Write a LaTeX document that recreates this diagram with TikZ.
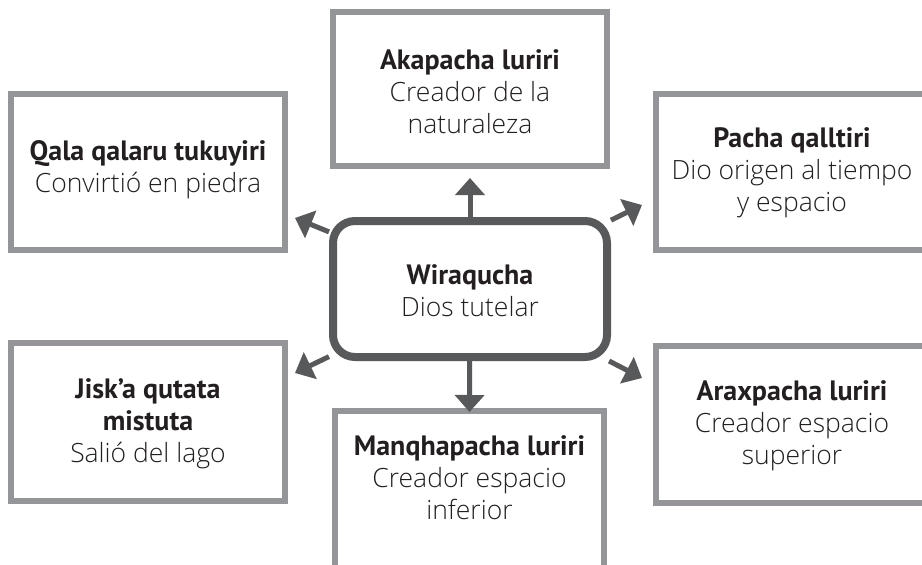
\documentclass[tikz,border=0pt]{standalone}
\usepackage{fontspec}
\setmainfont{PT Sans}
\IfFontExistsTF{Open Sans Light}{\newfontfamily\lightf{Open Sans Light}}{\newfontfamily\lightf{PT Sans}}
\usetikzlibrary{arrows.meta}
\definecolor{boxgray}{HTML}{939598}
\definecolor{darkg}{HTML}{58595B}
\definecolor{txt}{HTML}{231F20}
\newcommand\dsc[1]{{\lightf\fontsize{26.5}{32}\selectfont #1}}
\newcommand\hd[1]{{\bfseries\fontsize{28}{32}\selectfont #1}}
\begin{document}
\begin{tikzpicture}[x=1pt,y=-1pt,
  outerbox/.style={draw=boxgray, line width=6pt, fill=white, inner sep=0pt},
  centerbox/.style={draw=darkg, line width=8pt, fill=white, rounded corners=22pt, inner sep=0pt},
  label/.style={align=center, text=txt, inner sep=0pt, font=\fontsize{27}{32}\selectfont},
  arr/.style={draw=darkg, line width=5pt, -{Triangle[length=17pt,width=29pt]}}]
\clip (0,0) rectangle (922,565);
\fill[white] (0,0) rectangle (922,565);
% outer boxes
\node[outerbox, minimum width=274pt, minimum height=154pt] (A) at (470,89) {};
\node[outerbox, minimum width=274pt, minimum height=156pt] (Q) at (148,172) {};
\node[outerbox, minimum width=272pt, minimum height=156pt] (P) at (792,172) {};
\node[outerbox, minimum width=274pt, minimum height=158pt] (J) at (148,422) {};
\node[outerbox, minimum width=272pt, minimum height=157pt] (R) at (792,424.5) {};
\node[outerbox, minimum width=269pt, minimum height=180pt] (M) at (469.5,501) {};
% central box
\node[centerbox, minimum width=274pt, minimum height=136pt] (W) at (470,289) {};
% texts
\node[label] (tA) at (470,92) {\hd{Akapacha luriri}\\ \dsc{Creador de la}\\ \dsc{naturaleza}};
\node[label] (tQ) at (148,170) {\hd{Qala qalaru tukuyiri}\\ \dsc{Convirtió en piedra}};
\node[label] (tP) at (792,173) {\hd{Pacha qalltiri}\\ \dsc{Dio origen al tiempo}\\ \dsc{y espacio}};
\node[label] (tW) at (470,291) {\hd{Wiraqucha}\\ \dsc{Dios tutelar}};
\node[label] (tJ) at (148,424) {\hd{Jisk’a qutata}\\ \hd{mistuta}\\ \dsc{Salió del lago}};
\node[label] (tR) at (792,426) {\hd{Araxpacha luriri}\\ \dsc{Creador espacio}\\ \dsc{superior}};
\node[label] (tM) at (469.5,478) {\hd{Manqhapacha luriri}\\ \dsc{Creador espacio}\\ \dsc{inferior}};
% arrow tips
\coordinate (kQ) at (295,218);
\coordinate (kP) at (642,205);
\coordinate (kJ) at (295,373);
\coordinate (kR) at (642,378);
% arrows
\draw[arr, shorten >=9pt] (W) -- (A);
\draw[arr] (W) -- ([yshift=-4pt]M.north);
\draw[arr] (W) -- (kQ);
\draw[arr] (W) -- (kP);
\draw[arr] (W) -- (kJ);
\draw[arr] (W) -- (kR);
\end{tikzpicture}
\end{document}
